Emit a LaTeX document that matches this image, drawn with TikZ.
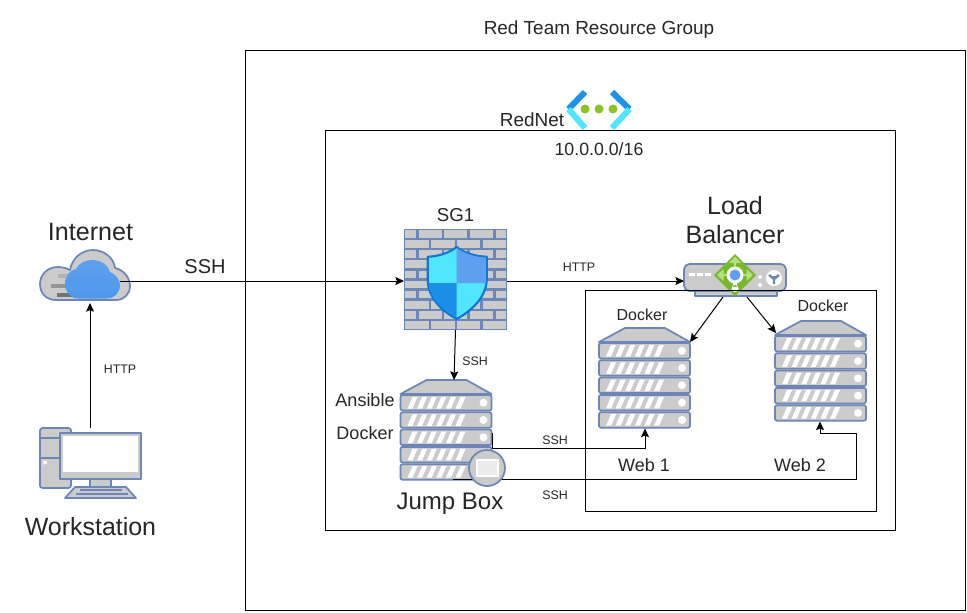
\documentclass[tikz,border=0pt]{standalone}
\usepackage{fontspec}
\setmainfont{Liberation Sans}
\usetikzlibrary{arrows.meta,shapes.geometric}
\definecolor{rack}{HTML}{6C86B8}
\definecolor{rackfill}{HTML}{CBCBCB}
\definecolor{azdark}{HTML}{1B93EB}
\definecolor{azmid}{HTML}{5EA0EF}
\definecolor{azcyan}{HTML}{50E6FF}
\definecolor{azedge}{HTML}{0F78D4}
\definecolor{lbgreen}{HTML}{76B82A}
\definecolor{lbpale}{HTML}{B4E07E}
\tikzset{
  x=0.75pt,y=-0.75pt,
  iconarea/.style 2 args={minimum width=#1*0.75pt,minimum height=#2*0.75pt,inner sep=0pt,outer sep=0pt},
  txt/.style={inner sep=0pt,text=black!85,font=\fontsize{#1}{#1}\selectfont},
  frame/.style={draw=black,line width=0.75pt},
  link/.style={draw=black,line width=0.75pt,-{Stealth[length=6.5pt,width=6pt,inset=1.2pt]}},
  rackline/.style={draw=rack,line width=1.3pt,line join=round},
  pics/serverrack/.style={code={
    \path[rackline,fill=rackfill] (26,0) -- (66,0) -- (91,14) -- (0,14) -- cycle;
    \foreach \r in {0,...,4}{
      \begin{scope}[yshift={-(15+\r*17.3)*0.75pt}]
        \path[rackline,fill=rackfill,rounded corners=1.5pt] (0,0) rectangle (91,15.5);
        \foreach \s in {0,...,5}
          \fill[white] ({7+\s*9.6},13.5) -- ({12+\s*9.6},13.5) -- ({17+\s*9.6},2) -- ({12+\s*9.6},2) -- cycle;
        \fill[white] (83,7.7) circle (4);
      \end{scope}}
  }},
}
\begin{document}
\begin{tikzpicture}
\useasboundingbox[fill=white] (0,0) rectangle (967,612);

% ---- anchors of the icons
\node[iconarea={55}{40}] (inet) at (92.5,281) {};
\node[iconarea={101}{57}] (work) at (90,456.5) {};
\node[iconarea={103}{101}] (sg) at (455.5,281) {};
\node[iconarea={102}{32}] (lb) at (735,281) {};
\node[iconarea={91}{99}] (jump) at (446,429.5) {};
\node[iconarea={91}{99}] (webone) at (644.5,377.5) {};
\node[iconarea={91}{100}] (webtwo) at (820.5,371) {};
\coordinate (workup) at (90,428);
\coordinate (inetdown) at (90,303);
\coordinate (sgdown) at (455.5,330);
\coordinate (jumptop) at (454,380);
\coordinate (lbleft) at (723,297);
\coordinate (lbright) at (747,297);
\coordinate (onetop) at (690,342);
\coordinate (twotop) at (776,333);
\coordinate (jumpout) at (492,433);
\coordinate (jumpcorner) at (492,448);
\coordinate (onecorner) at (645,448);
\coordinate (onebottom) at (645,428.5);
\coordinate (jumpfoot) at (453,479);
\coordinate (footcorner) at (856,479);
\coordinate (risecorner) at (856,433);
\coordinate (twocorner) at (820,433);
\coordinate (twobottom) at (820,421.5);

% ---- internet cloud
\path[rackline,fill=rackfill] (56,300)
  .. controls (46,300) and (40,293) .. (40,284)
  .. controls (40,275) and (47,267) .. (58,267)
  .. controls (62,267) and (66,268) .. (70,270)
  .. controls (72,258) and (82,250) .. (93,250)
  .. controls (104,250) and (114,258) .. (115,268)
  .. controls (124,270) and (130,278) .. (130,286)
  .. controls (130,294) and (124,300) .. (116,300) -- cycle;
\fill[black!30] (58,274) rectangle (70,278);
\fill[black!42] (51,283.5) rectangle (68,287.5);
\fill[black!55] (57,292.5) rectangle (72,296.5);
\path[top color=azmid,bottom color=azmid!80!azedge] (78,298.5)
  .. controls (70,298.5) and (65,291) .. (65,284)
  .. controls (65,276) and (70,270) .. (76,269)
  .. controls (79,263) and (85,260) .. (92,260)
  .. controls (101,260) and (108,265) .. (110,272)
  .. controls (115,274) and (120,279) .. (120,285)
  .. controls (120,293) and (114,298.5) .. (107,298.5) -- cycle;

% ---- workstation
\path[rackline,fill=rackfill,rounded corners=2pt] (40,428) rectangle (71,488);
\draw[rack,line width=1.1pt] (40,438) -- (60,438) (40,458) -- (60,458);
\fill[white] (45,462.5) circle (2);
\path[rackline,fill=rackfill] (90,479) rectangle (111,487);
\path[rackline,fill=rackfill] (75,487) -- (126,487) -- (136,498) -- (65,498) -- cycle;
\draw[rack,line width=0.8pt] (80,490) -- (122,490) (76,494) -- (128,494);
\path[rackline,fill=rackfill] (60,433) rectangle (141,479);
\fill[white] (63,436) rectangle (138,472);

% ---- firewall
\fill[rack] (404,229) rectangle (507,330);
\foreach \row in {0,2,4,6,8}{
  \begin{scope}[yshift={-(229+\row*10.15)*0.75pt}]
    \foreach \a/\b in {405/416,418.5/441.5,443.5/467,469.5/493,495.5/506}
      \fill[rackfill] (\a,1) rectangle (\b,8.5);
  \end{scope}
  \begin{scope}[yshift={-(229+(\row+1)*10.15)*0.75pt}]
    \foreach \a/\b in {405/429,431/455,457/480,482.5/506}
      \fill[rackfill] (\a,1) rectangle (\b,8.5);
  \end{scope}}
\path[fill=azcyan,draw=azedge,line width=1.6pt,line join=round] (456.7,247)
  .. controls (449,253) and (438,256.5) .. (427.7,256.7)
  -- (427.7,280)
  .. controls (428,298) and (442,311) .. (456.7,319)
  .. controls (471,311) and (486,298) .. (486.7,280)
  -- (486.7,256.7)
  .. controls (476,256.5) and (464,253) .. (456.7,247) -- cycle;
\fill[azmid] (456.7,248) .. controls (464,253.5) and (476,257.5) .. (485.8,257.6)
  -- (485.8,283) -- (456.7,283) -- cycle;
\fill[azdark!85!azedge] (428.6,283) -- (456.7,283) -- (456.7,318)
  .. controls (442,310) and (429.5,297) .. (428.6,283) -- cycle;

% ---- load balancer
\path[rackline,fill=rackfill] (695,291) rectangle (777,296);
\path[rackline,fill=rackfill,rounded corners=4pt] (684,264) rectangle (786,291);
\foreach \a in {689,697,705}
  \fill[white] (\a,273) rectangle (\a+6,276);
\fill[white] (760,277) circle (2) (760,285) circle (2);
\fill[white] (774,278) circle (8);
\draw[rack,line width=1.8pt] (774,284) -- (774,276) (769,275) -- (774,279) -- (779,275);
\fill[lbgreen] (735,254) -- (756,275) -- (735,296) -- (714,275) -- cycle;
\draw[lbpale,line width=2pt] (735,261) -- (735,268) (722,275) -- (728,275) (742,275) -- (748,275);
\fill[lbpale] (735,256.5) -- (741,263) -- (729,263) -- cycle
  (753,275) -- (746.5,269) -- (746.5,281) -- cycle
  (717,275) -- (723.5,269) -- (723.5,281) -- cycle;
\fill[white] (735,275) circle (8.5);
\fill[white] (733,282) rectangle (737,287) (735,288.5) circle (3.5);
\fill[azmid] (735,275) circle (5.5);

% ---- servers
\pic at (400.5,380) {serverrack};
\pic at (599,328) {serverrack};
\pic at (775,321) {serverrack};

% ---- frames
\draw[frame] (245.5,50.5) rectangle (965.5,610);
\draw[frame] (325.5,130.5) rectangle (895,530);
\draw[frame] (585,290.5) rectangle (876,511);

% ---- rednet icon
\draw[azdark,line width=4.5pt] (585,92) -- (568.5,109);
\draw[azcyan,line width=4.5pt] (568.5,109) -- (585,128);
\draw[azdark,line width=4.5pt] (612,92) -- (629.5,109);
\draw[azcyan,line width=4.5pt] (629.5,109) -- (612,128);
\fill[lbgreen!85!yellow] (585,109) circle (4.5) (599,109) circle (4.5) (613,109) circle (4.5);

% ---- connectors
\draw[link] (inet.east) -- (sg.west);
\draw[link] (sg.east) -- (lb.west);
\draw[link] (workup) -- (inetdown);
\draw[link] (sgdown) -- (jumptop);
\draw[link] (lbleft) -- (onetop);
\draw[link] (lbright) -- (twotop);
\draw[link] (jumpout) -- (jumpcorner) -- (onecorner) -- (onebottom);
\draw[link] (jumpfoot) -- (footcorner) -- (risecorner) -- (twocorner) -- (twobottom);

% ---- jump box badge (above the connector)
\path[rackline,fill=rackfill] (487,468) circle (18);
\path[draw=white,line width=1pt,fill=white!92!black] (477,460) rectangle (498,476);

% ---- labels
\node[txt=14.2] (tgroup) at (599,30) {Red Team Resource Group};
\node[txt=14.2] (trednet) at (532,120) {RedNet};
\node[txt=13.3] (tcidr) at (599,149) {10.0.0.0/16};
\node[txt=14] (tsg) at (455.5,215) {SG1};
\node[txt=18.8] (tinet) at (90.5,232) {Internet};
\node[txt=18.8,align=center] (tlb) at (735,220) {Load\\[3pt]Balancer};
\node[txt=15] (tssh) at (205,267) {SSH};
\node[txt=9.3] (thttpa) at (579,267) {HTTP};
\node[txt=9.3] (tsshb) at (475,361) {SSH};
\node[txt=9.3] (thttpb) at (120,369) {HTTP};
\node[txt=13.5] (tans) at (365,400) {Ansible};
\node[txt=13.5] (tdock) at (365,433) {Docker};
\node[txt=18] (tjump) at (450,504) {Jump Box};
\node[txt=13.5] (tweba) at (644,465) {Web 1};
\node[txt=13.5] (twebb) at (800,465) {Web 2};
\node[txt=12] (tdocka) at (642,315) {Docker};
\node[txt=12] (tdockb) at (823,306) {Docker};
\node[txt=9.3] (tsshc) at (555,440) {SSH};
\node[txt=9.3] (tsshd) at (555,495) {SSH};
\node[txt=18.7] (twork) at (90.5,527) {Workstation};
\end{tikzpicture}
\end{document}
